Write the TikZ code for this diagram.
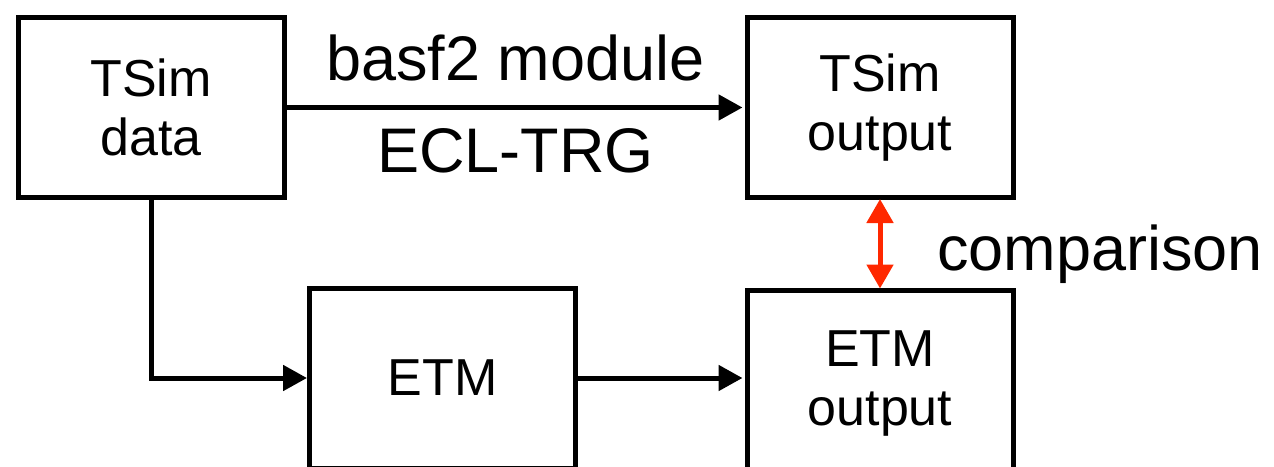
\documentclass[tikz,border=0pt]{standalone}
\usepackage{fontspec}
\setmainfont{Liberation Sans}
\usetikzlibrary{arrows.meta}
\definecolor{cmpred}{RGB}{255,40,0}
\tikzset{
  blk/.style={draw=black, line width=5pt, minimum width=266pt, minimum height=180pt,
              inner sep=0pt, align=center, font=\fontsize{52}{59}\selectfont},
  arr/.style={line width=5pt, -{Triangle[length=24pt, width=25pt]}},
  cmparr/.style={draw=cmpred, line width=5pt,
                 {Triangle[length=24pt, width=26pt]}-{Triangle[length=24pt, width=26pt]},
                 shorten <=-1pt, shorten >=-1pt},
  lbl/.style={inner sep=0pt, font=\fontsize{63}{70}\selectfont}
}
\begin{document}
\begin{tikzpicture}[x=1pt, y=-1pt]
  \useasboundingbox (0,0) rectangle (1274,466);
  % blocks (the lower ones run past the bottom edge)
  \node[blk] (data) at (151,107.5) {TSim\\data};
  \node[blk] (tout) at (880,107.5) {TSim\\output};
  \node[blk] (etm)  at (442.5,378) {ETM};
  \node[blk, minimum height=188pt] (eout) at (880,384) {ETM\\output};
  % emulator chain
  \draw[arr, shorten >=2pt] (data.east) --
      node[lbl, anchor=base, yshift=27pt] {basf2 module}
      node[lbl, anchor=base, yshift=-65pt] {ECL-TRG}
      (tout.west);
  \draw[arr] (data.south) |- (etm.west);
  \draw[arr, shorten >=2pt] (etm.east) -- (etm.east -| eout.west);
  % comparison of the two outputs
  \draw[cmparr] (tout.south) -- (eout.north);
  \node[lbl, anchor=base west] (cmp) at (937,270) {comparison};
\end{tikzpicture}
\end{document}
